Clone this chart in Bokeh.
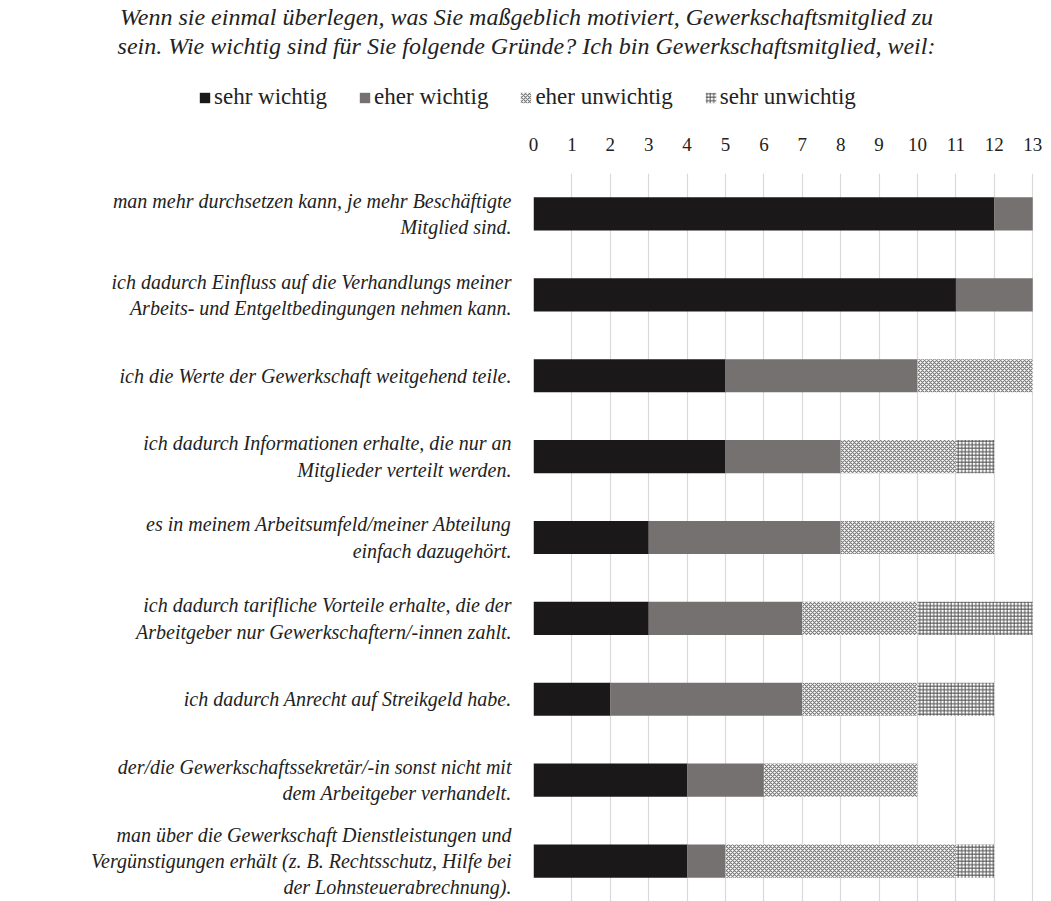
from bokeh.plotting import figure
from bokeh.layouts import column
from bokeh.models import (Range1d, FixedTicker, ColumnDataSource, Legend, LegendItem)
from bokeh.core.properties import value
from bokeh.embed import file_html
from bokeh.resources import INLINE

title_text = ("Wenn sie einmal überlegen, was Sie maßgeblich motiviert, Gewerkschaftsmitglied zu\n"
              "sein. Wie wichtig sind für Sie folgende Gründe? Ich bin Gewerkschaftsmitglied, weil:")

categories = [
    "man mehr durchsetzen kann, je mehr Beschäftigte\nMitglied sind.",
    "ich dadurch Einfluss auf die Verhandlungs meiner\nArbeits- und Entgeltbedingungen nehmen kann.",
    "ich die Werte der Gewerkschaft weitgehend teile.",
    "ich dadurch Informationen erhalte, die nur an\nMitglieder verteilt werden.",
    "es in meinem Arbeitsumfeld/meiner Abteilung\neinfach dazugehört.",
    "ich dadurch tarifliche Vorteile erhalte, die der\nArbeitgeber nur Gewerkschaftern/-innen zahlt.",
    "ich dadurch Anrecht auf Streikgeld habe.",
    "der/die Gewerkschaftssekretär/-in sonst nicht mit\ndem Arbeitgeber verhandelt.",
    "man über die Gewerkschaft Dienstleistungen und\nVergünstigungen erhält (z. B. Rechtsschutz, Hilfe bei\nder Lohnsteuerabrechnung).",
]
series_names = ["sehr wichtig", "eher wichtig", "eher unwichtig", "sehr unwichtig"]
sehr_wichtig = [12, 11, 5, 5, 3, 3, 2, 4, 4]
eher_wichtig = [1, 2, 5, 3, 5, 4, 5, 2, 1]
eher_unwichtig = [0, 0, 3, 3, 4, 3, 3, 4, 6]
sehr_unwichtig = [0, 0, 0, 1, 0, 3, 2, 0, 1]
x_ticks = list(range(0, 14))

SERIF = "Liberation Serif"
TEXT_COLOR = "#222222"
W = 1043

positions = list(range(1, len(categories) + 1))
series = [sehr_wichtig, eher_wichtig, eher_unwichtig, sehr_unwichtig]
styles = [
    dict(fill_color="#1b1819"),
    dict(fill_color="#767171"),
    dict(fill_color="white", hatch_pattern="diagonal_cross", hatch_color="#7a7a7a",
         hatch_scale=4, hatch_weight=1.2),
    dict(fill_color="white", hatch_pattern="cross", hatch_color="#555555",
         hatch_scale=3.5, hatch_weight=1),
]

# ---------------- header (title + legend) ----------------
HEADER_H = 120
hdr = figure(width=W, height=HEADER_H, output_backend="svg", toolbar_location=None,
             x_range=Range1d(0, W), y_range=Range1d(0, HEADER_H),
             min_border=0)
hdr.axis.visible = False
hdr.grid.visible = False
hdr.outline_line_color = None

hdr.text(x=[526], y=[HEADER_H - 31], text=[title_text],
         text_font=value(SERIF), text_font_style="italic", text_font_size="24px",
         text_align="center", text_baseline="middle", text_color=TEXT_COLOR,
         text_line_height=1.13)

# legend proxies: one point each, placed outside the visible header range
dummy = []
for st in styles:
    src = ColumnDataSource(dict(y=[-1000], left=[-1000], right=[-999]))
    r = hdr.hbar(y="y", left="left", right="right", height=1, source=src,
                 line_color=None, **st)
    dummy.append(r)

legend = Legend(items=[LegendItem(label=n, renderers=[r]) for n, r in zip(series_names, dummy)],
                orientation="horizontal", location=(198, 10),
                label_text_font=SERIF, label_text_font_size="23px", label_text_color=TEXT_COLOR,
                glyph_width=13, glyph_height=13, spacing=31, label_standoff=3,
                border_line_color=None, background_fill_alpha=0, padding=0, margin=0)
hdr.add_layout(legend)

# ---------------- main chart ----------------
p = figure(width=W, height=781, output_backend="svg", toolbar_location=None,
           x_range=Range1d(0, 13.02), y_range=Range1d(9.5, 0.5),
           x_axis_location="above", min_border_left=533, min_border_top=53,
           min_border_right=10, min_border_bottom=0)
p.outline_line_color = None

left = [0] * len(categories)
for vals, name, st in zip(series, series_names, styles):
    right = [l + v for l, v in zip(left, vals)]
    src = ColumnDataSource(dict(y=positions, left=left, right=right))
    p.hbar(y="y", left="left", right="right", height=0.41, source=src,
           line_color=None, **st)
    left = right

p.xaxis.ticker = FixedTicker(ticks=x_ticks)
p.xaxis.axis_line_color = None
p.xaxis.major_tick_line_color = None
p.xaxis.minor_tick_line_color = None
p.xaxis.major_label_text_font = SERIF
p.xaxis.major_label_text_font_size = "19px"
p.xaxis.major_label_text_color = TEXT_COLOR
p.xaxis.major_label_standoff = 17

p.yaxis.ticker = FixedTicker(ticks=positions)
p.yaxis.major_label_overrides = {i: c for i, c in zip(positions, categories)}
p.yaxis.axis_line_color = None
p.yaxis.major_tick_line_color = None
p.yaxis.minor_tick_line_color = None
p.yaxis.major_label_text_font = SERIF
p.yaxis.major_label_text_font_style = "italic"
p.yaxis.major_label_text_font_size = "20px"
p.yaxis.major_label_text_color = TEXT_COLOR
p.yaxis.major_label_standoff = 16

p.xgrid.grid_line_color = "#d9d9d9"
p.xgrid.grid_line_width = 1.2
p.xgrid.ticker = FixedTicker(ticks=x_ticks)
p.ygrid.grid_line_color = None

layout = column(column(hdr), column(p), spacing=0)
open("out.html", "w").write(file_html(layout, INLINE))
